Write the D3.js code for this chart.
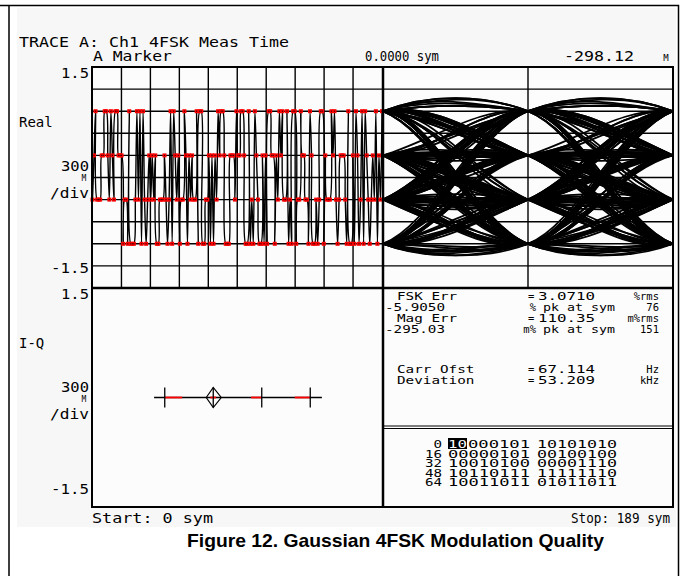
<!DOCTYPE html>
<html>
<head>
<meta charset="utf-8">
<title>Gaussian 4FSK Modulation Quality</title>
<script src="https://cdn.jsdelivr.net/npm/d3@7"></script>
<style>
    body { margin: 0; background: #fff; }
    svg text { font-family: "DejaVu Sans Mono", monospace; fill: #000; }
    .cap { font-family: "Liberation Sans", Arial, sans-serif; font-weight: bold; }
</style>
</head>
<body>
<svg id="chart" width="683" height="576"></svg>
<script>
// symbol levels (normalised deviation): 0 = 01, 1 = 00, 2 = 10, 3 = 11
var levels = [0.9, 0.3, -0.3, -0.9];
// symbol sequence (symbols 0..189)
var symbols = [
    2,1,0,2,2,2,1,1,0,0, 1,2,0,1,2,0,0,1,1,1, 3,2,2,3,0,3,3,3,2,0,
    2,0,3,0,2,3,2,1,2,1, 2,1,3,3,2,2,2,1,2,3, 2,0,3,0,1,2,1,3,2,2,
    0,1,3,1,2,1,2,2,0,3, 0,0,3,3,2,2,1,3,1,3, 1,2,0,1,0,0,1,3,3,3,
    1,1,1,2,0,1,1,0,0,1, 3,3,0,3,2,3,0,1,2,3, 3,1,3,1,3,0,0,1,1,3,
    1,2,0,1,0,2,2,0,3,2, 3,0,0,3,2,2,0,1,1,2, 2,3,0,1,3,3,2,3,2,0,
    0,3,1,2,2,2,0,1,0,2, 3,2,1,1,1,2,3,0,3,3, 1,3,0,1,3,2,0,3,0,1,
    2,3,2,1,2,0,3,1,2,0
];

// I-Q (frequency) display
var iqPoints = [-0.75, -0.25, 0.25, 0.75];
var iqExtent = [-0.86, 0.87];
var iqRed = [[-0.75, -0.57], [-0.28, -0.22], [0.14, 0.25], [0.59, 0.75]];
var iqMarker = -0.25;

// header / scale texts
var traceTitle = 'TRACE A: Ch1 4FSK Meas Time';
var markerText = ['A Marker', '0.0000 sym', '-298.12'];
var yTopLabel = '1.5', yBotLabel = '-1.5', yDiv = '300';
var panelNames = ['Real', 'I-Q'];
var startText = 'Start: 0 sym', stopText = 'Stop: 189 sym';

// error summary
var statNames = ['FSK Err', 'Mag Err'];
var statValues = ['3.0710', '110.35'];
var statUnits = ['%rms', 'm%rms'];
var peakValues = ['-5.9050', '-295.03'];
var peakUnits = ['%', 'm%'];
var peakSyms = ['76', '151'];
var carrNames = ['Carr Ofst', 'Deviation'];
var carrValues = ['67.114', '53.209'];
var carrUnits = ['Hz', 'kHz'];

// symbol table
var bitIndex = ['0', '16', '32', '48', '64'];
var bitRows = [
    ['10000101', '10101010'],
    ['00000101', '00100100'],
    ['10010100', '00001110'],
    ['10110111', '11111110'],
    ['10011011', '01011011']
];

var caption = 'Figure 12. Gaussian 4FSK Modulation Quality';

//layout
var pL = 92, pSplit = 383, pR = 673, pT = 67, pMid = 288, pB = 507, tableTop = 426;
var svg = d3.select('#chart');

// page frame + instrument screen background
svg.append('path').attr('d', 'M0,5.5H678.5V576M9,5.5V576')
    .attr('fill', 'none').attr('stroke', '#000').attr('stroke-width', 1.5);
svg.append('rect').attr('x', 17).attr('y', 8).attr('width', 659).attr('height', 519).attr('fill', '#f7f7f7');

//scales
var x = d3.scaleLinear().domain([0, 189]).range([pL + 0.5, pSplit - 1]);
var y = d3.scaleLinear().domain([-1.5, 1.5]).range([pMid, pT]);
var xe = d3.scaleLinear().domain([0, 2]).range([pSplit, pR]);
var xi = d3.scaleLinear().domain([-1.5, 1.5]).range([pL, pSplit]);
var yi = d3.scaleLinear().domain([-1.5, 1.5]).range([pB, pMid]);

svg.append('rect').attr('x', pL).attr('y', pT).attr('width', pR - pL).attr('height', pB - pT)
    .attr('fill', '#fcfcfc');

var defs = svg.append('defs');
defs.append('clipPath').attr('id', 'clipT').append('rect')
    .attr('x', pL).attr('y', pT).attr('width', pSplit - pL).attr('height', pMid - pT);
defs.append('clipPath').attr('id', 'clipE').append('rect')
    .attr('x', pSplit).attr('y', pT).attr('width', pR - pSplit).attr('height', pMid - pT);

//gridlines
var g = svg.append('g').attr('stroke', '#000').attr('stroke-width', 1.4);
var yGrid = d3.range(11).map(i => -1.5 + i * 0.3);
g.selectAll('.hg').data(yGrid).enter().append('line')
    .attr('x1', pL).attr('x2', pR).attr('y1', d => y(d)).attr('y2', d => y(d));
g.selectAll('.vg').data(d3.range(1, 10).map(i => i * 18.9)).enter().append('line')
    .attr('x1', d => x(d)).attr('x2', d => x(d)).attr('y1', pT).attr('y2', pMid);
g.append('line').attr('x1', xe(1)).attr('x2', xe(1)).attr('y1', pT).attr('y2', pMid);

// time trace
var pts = symbols.map((s, i) => [x(i), y(levels[s])]);
svg.append('path').datum(pts)
    .attr('clip-path', 'url(#clipT)')
    .attr('fill', 'none').attr('stroke', '#000').attr('stroke-width', 1.4)
    .attr('d', d3.line().curve(d3.curveCatmullRom));

// eye diagram, two symbols wide
var eyeLine = d3.line().x(d => xe(d.t)).y(d => y(levels[d.s])).curve(d3.curveCatmullRom);
var eye = svg.append('g').attr('clip-path', 'url(#clipE)')
    .attr('fill', 'none').attr('stroke', '#000').attr('stroke-width', 1.8);
for (var k = 0; k < symbols.length - 2; k++) {
    var seg = [-1, 0, 1, 2, 3].map(o => ({t: o, s: symbols[Math.max(0, Math.min(symbols.length - 1, k + o))]}));
    eye.append('path').attr('d', eyeLine(seg));
}

// symbol points
var dots = svg.append('g');
dots.selectAll('rect.pt').data(symbols).enter().append('rect')
    .attr('x', (d, i) => x(i) - 2).attr('y', d => y(levels[d]) - 2)
    .attr('width', 4).attr('height', 4).attr('fill', '#f00');
dots.selectAll('rect.c').data(symbols).enter().append('rect')
    .attr('x', (d, i) => x(i) - 0.6).attr('y', d => y(levels[d]) - 0.6)
    .attr('width', 1.2).attr('height', 1.2).attr('fill', '#400');

// I-Q frequency line
var iq = svg.append('g');
iq.append('line').attr('x1', xi(iqExtent[0])).attr('x2', xi(iqExtent[1]))
    .attr('y1', yi(0)).attr('y2', yi(0)).attr('stroke', '#000').attr('stroke-width', 1.3);
iq.selectAll('.r').data(iqRed).enter().append('line')
    .attr('x1', d => xi(d[0])).attr('x2', d => xi(d[1]))
    .attr('y1', yi(0)).attr('y2', yi(0)).attr('stroke', '#f00').attr('stroke-width', 1.8);
iq.selectAll('.t').data(iqPoints).enter().append('line')
    .attr('x1', d => xi(d)).attr('x2', d => xi(d))
    .attr('y1', yi(0) - 10).attr('y2', yi(0) + 10).attr('stroke', '#000').attr('stroke-width', 1.3);
var mx = xi(iqMarker), my = yi(0);
iq.append('path')
    .attr('d', 'M' + (mx - 7) + ',' + my + 'L' + mx + ',' + (my - 10) + 'L' + (mx + 8) + ',' + my +
        'L' + mx + ',' + (my + 10) + 'Z')
    .attr('fill', 'none').attr('stroke', '#000').attr('stroke-width', 1.2);

// panel frames
var fr = svg.append('g').attr('fill', 'none').attr('stroke', '#000');
fr.append('rect').attr('x', pL).attr('y', pT).attr('width', pR - pL).attr('height', pB - pT)
    .attr('stroke-width', 2);
fr.append('line').attr('x1', pL).attr('x2', pR).attr('y1', pMid).attr('y2', pMid).attr('stroke-width', 2.5);
fr.append('line').attr('x1', pSplit).attr('x2', pSplit).attr('y1', pT).attr('y2', pB).attr('stroke-width', 2.5);
fr.append('line').attr('x1', pSplit).attr('x2', pR).attr('y1', tableTop).attr('y2', tableTop).attr('stroke-width', 1.2);
fr.append('line').attr('x1', pSplit).attr('x2', pR).attr('y1', tableTop + 2.5).attr('y2', tableTop + 2.5).attr('stroke-width', 1.2);

//text helper
function txt(px, py, s, size, anchor, len) {
    var t = svg.append('text').attr('x', px).attr('y', py).attr('font-size', size)
        .attr('text-anchor', anchor || 'start').text(s);
    if (len) t.attr('textLength', len).attr('lengthAdjust', 'spacingAndGlyphs');
    return t;
}

txt(19, 47, traceTitle, 14.5, 'start', 270);
txt(93, 61, markerText[0], 14.5, 'start', 79);
txt(365, 61, markerText[1], 14.5, 'start', 74);
txt(564, 61, markerText[2], 14.5, 'start', 70);
txt(666, 61, 'M', 9, 'middle');

[pT, pMid].forEach(function (t0, i) {
    txt(89, t0 + 11, yTopLabel, 14.5, 'end', 28);
    txt(19, t0 + 60, panelNames[i], 14, 'start');
    txt(89, t0 + 104, yDiv, 14.5, 'end', 28);
    txt(84, t0 + 114, 'M', 8, 'middle');
    txt(89, t0 + 131, '/div', 14.5, 'end', 39);
    txt(89, t0 + 206, yBotLabel, 14.5, 'end', 38);
});

txt(92, 523, startText, 14, 'start', 121);
txt(670, 523, stopText, 14, 'end', 99);

// error summary
var fs = 10.5;
statNames.forEach(function (n, i) {
    var b = 300 + i * 22;
    txt(397, b, n, fs, 'start', n.length * 8.6);
    txt(528, b, '=', fs);
    txt(538, b, statValues[i], fs, 'start', statValues[i].length * 9.5);
    txt(659, b, statUnits[i], fs, 'end');
    txt(385, b + 11, peakValues[i], fs, 'start', 60);
    txt(536, b + 11, peakUnits[i], fs, 'end');
    txt(543, b + 11, 'pk at sym', fs, 'start', 72);
    txt(659, b + 11, peakSyms[i], fs, 'end');
});
carrNames.forEach(function (n, i) {
    var b = 373 + i * 11;
    txt(397, b, n, fs, 'start', n.length * 8.6);
    txt(528, b, '=', fs);
    txt(538, b, carrValues[i], fs, 'start', 57);
    txt(659, b, carrUnits[i], fs, 'end');
});

// symbol table, marker symbol highlighted
var bs = 9.8;
bitIndex.forEach(function (lab, i) {
    var b = 448 + i * 9.5;
    txt(442, b, lab, bs, 'end', lab.length * 8.5);
    if (i === 0) {
        svg.append('rect').attr('x', 448).attr('y', 438).attr('width', 19).attr('height', 11).attr('fill', '#000');
        txt(448, b, bitRows[i][0].slice(0, 2), bs, 'start', 19).style('fill', '#fff');
        txt(468, b, bitRows[i][0].slice(2), bs, 'start', 62);
    } else {
        txt(448, b, bitRows[i][0], bs, 'start', 82);
    }
    txt(537, b, bitRows[i][1], bs, 'start', 80);
});

svg.append('text').attr('class', 'cap').attr('x', 187).attr('y', 547).attr('font-size', 19)
    .attr('textLength', 417).attr('lengthAdjust', 'spacingAndGlyphs').text(caption);
</script>
</body>
</html>
